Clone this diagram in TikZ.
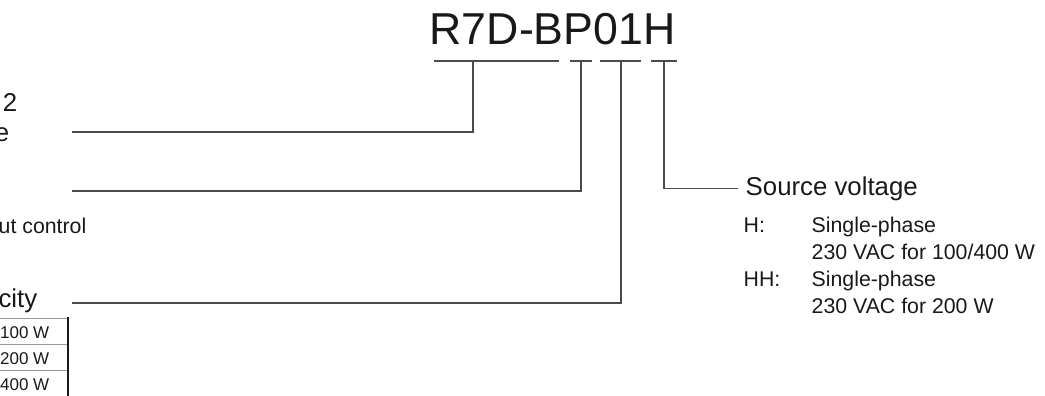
\documentclass[tikz,border=0pt]{standalone}
\usepackage{fontspec}
\setmainfont{Liberation Sans}
\begin{document}
\begin{tikzpicture}[x = 1pt, y = -1pt, line width = 1.4pt,
                    lead/.style = {draw = black!70, line width = 1.4pt},
                    head/.style = {inner sep = 0pt, text = black!90, font = \fontsize{25.8}{30}\selectfont},
                    item/.style = {inner sep = 0pt, text = black!90, font = \fontsize{21.3}{25}\selectfont},
                    cell/.style = {inner sep = 0pt, text = black!90, font = \fontsize{17}{20}\selectfont, anchor = base east}]

\useasboundingbox (0,0) rectangle (1045,396);
\clip (0,0) rectangle (1045,396);

% model number
\node [inner sep = 0pt, text = black!90, font = \fontsize{44.7}{50}\selectfont, anchor = base west] (model) at (429,45) {R7D-BP01H};

% code groups
\draw [lead] (434,61) -- (559,61);
\draw [lead] (570,61) -- (592,61);
\draw [lead] (600,61) -- (641,61);
\draw [lead] (651,61) -- (677,61);

\coordinate (g1) at (473,61);
\coordinate (g2) at (581,61);
\coordinate (g3) at (621,61);
\coordinate (g4) at (664,61);

% free ends on the left
\coordinate (e1) at (72,132);
\coordinate (e2) at (72,191);
\coordinate (e3) at (72,303);

% left labels (cut off)
\node [head, anchor = base east] (l1a) at (18,112) {2};
\node [head, anchor = base east] (l1b) at (10,142) {e};
\node [item, anchor = base east] (l2) at (87,233) {ut control};
\node [head, anchor = base east] (l3) at (38,307) {city};

% capacity table
\node [cell] (c1) at (50,338) {100 W};
\node [cell] (c2) at (50,364) {200 W};
\node [cell] (c3) at (50,390) {400 W};
\draw [black!40, line width = 1pt] (0,318) -- (68,318);
\draw [black!40, line width = 1pt] (0,344) -- (68,344);
\draw [black!40, line width = 1pt] (0,370) -- (68,370);
\draw [black!90, line width = 1.8pt] (68,317) -- (68,396);

% source voltage
\node [head, anchor = base west] (volt) at (745,195) {Source voltage};

\node [item, anchor = base west] (h1) at (743,232) {H:};
\node [item, anchor = base west] (h1a) at (811,232) {Single-phase};
\node [item, anchor = base west] (h1b) at (811,259) {230 VAC for 100/400 W};
\node [item, anchor = base west] (h2) at (743,286) {HH:};
\node [item, anchor = base west] (h2a) at (811,286) {Single-phase};
\node [item, anchor = base west] (h2b) at (811,313) {230 VAC for 200 W};

% connectors
\draw [lead] (g1) |- (e1);
\draw [lead] (g2) |- (e2);
\draw [lead] (g3) |- (e3);
\draw [lead] (g4) |- ([xshift = -7pt]volt.west);

\end{tikzpicture}
\end{document}
